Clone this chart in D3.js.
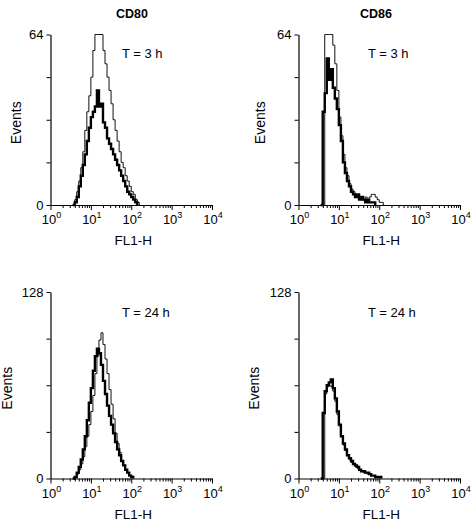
<!DOCTYPE html>
<html><head><meta charset="utf-8">
<script src="https://cdn.jsdelivr.net/npm/d3@7"></script>
<style>body{margin:0;background:#fff}svg{display:block}text{font-family:"Liberation Sans",Arial,Helvetica,sans-serif;fill:#000}</style>
</head><body><script>
// log10(FL1-H) bin starts
const binLog = [0.55,0.60,0.65,0.70,0.75,0.80,0.85,0.90,0.95,1.00,1.05,1.10,1.15,1.20,1.25,1.30,1.35,1.40,1.45,1.50,1.55,1.60,1.65,1.70,1.75,1.80,1.85,1.90,1.95,2.00,2.05,2.10,2.15,2.20,2.25];
const columnTitles = ["CD80", "CD86"];
const timeLabels = ["T = 3 h", "T = 24 h"];
const yMaxByRow = [64, 128];
const yTicksByRow = [[0,16,32,48,64],[0,32,64,96,128]];
const xDecades = [1, 10, 100, 1000, 10000];
const xDecadeExp = ["0","1","2","3","4"];
// Histograms (events per bin)
const cd80_3h_thin  = [0,2,5,9,14,20,28,35,41,48,58,64,64,64,64,58,53,48,43,38,32,28,24,20,16,14,11,9,7,5,4,2,1,0,0];
const cd80_3h_thick = [0,1,3,7,11,15,19,24,29,33,35,37,43,37,38,31,29,25,23,21,19,17,15,13,11,9,7,5,4,3,2,1,0,0,0];
const cd86_3h_thin  = [0,0,64,64,64,64,60,53,43,33,26,19,14,11,8,6,5,4,3,3,2,2,3,2,3,4,4,3,2,1,1,0,0,0,0];
const cd86_3h_thick = [0,35,42,55,47,51,44,40,36,30,24,16,12,9,7,5,4,3,4,2,3,2,1,2,1,1,1,0,0,0,0,0,0,0,0];
const cd80_24h_thin  = [0,1,3,6,10,15,22,29,37,46,57,72,84,95,100,92,82,72,61,51,41,31,24,18,12,9,6,4,2,1,0,0,0,0,0];
const cd80_24h_thick = [0,1,4,8,13,20,29,40,52,62,74,84,89,86,78,67,58,50,43,37,31,25,20,16,12,9,6,4,2,1,0,0,0,0,0];
const cd86_24h_thin  = [0,0,58,63,64,63,60,53,44,36,29,23,19,16,13,11,10,8,7,6,5,4,4,3,3,2,2,1,1,1,0,0,0,0,0];
const cd86_24h_thick = [0,45,60,64,66,68,62,55,46,37,29,24,20,16,14,12,10,9,8,6,5,5,4,4,3,2,2,1,1,1,0,0,0,0,0];

const seriesGrid = [
  [[cd80_3h_thin, cd80_3h_thick], [cd86_3h_thin, cd86_3h_thick]],
  [[cd80_24h_thin, cd80_24h_thick], [cd86_24h_thin, cd86_24h_thick]]
];

const W = 474, H = 521;
const svg = d3.select("body").append("svg").attr("width", W).attr("height", H);

const colX = [50.5, 298.5];
const plotW = 161.5;
const rowY = [[34.5, 205], [292, 478.5]];
const binStep = 0.05;

function points(vals) {
  let first = vals.findIndex(v => v > 0);
  let last = vals.length - 1;
  while (last > 0 && vals[last] === 0) last--;
  const pts = [];
  const s = Math.max(0, first - 1);
  for (let i = s; i <= last; i++) pts.push([Math.pow(10, binLog[i]), vals[i]]);
  pts.push([Math.pow(10, binLog[last] + binStep), 0]);
  if (s === first) pts.unshift([Math.pow(10, binLog[first]), 0]);
  return pts;
}

for (let r = 0; r < 2; r++) {
  for (let c = 0; c < 2; c++) {
    const x0 = colX[c], top = rowY[r][0], bot = rowY[r][1];
    const x = d3.scaleLog().domain([1, 10000]).range([x0, x0 + plotW]);
    const y = d3.scaleLinear().domain([0, yMaxByRow[r]]).range([bot, top]).clamp(true);
    const g = svg.append("g");

    const line = d3.line().x(d => x(d[0])).y(d => y(d[1])).curve(d3.curveStepAfter);
    const [thin, thick] = seriesGrid[r][c];
    g.append("path").datum(points(thin)).attr("d", line)
      .attr("fill", "none").attr("stroke", "#111").attr("stroke-width", 1);
    g.append("path").datum(points(thick)).attr("d", line)
      .attr("fill", "none").attr("stroke", "#000").attr("stroke-width", 2.4);

    // y axis
    const ya = d3.axisLeft(y).tickValues(yTicksByRow[r]).tickSize(4).tickSizeOuter(0).tickPadding(3)
      .tickFormat(d => (d === 0 || d === yMaxByRow[r]) ? d : "");
    const yg = g.append("g").attr("transform", `translate(${x0},0)`).call(ya);
    yg.selectAll("text").attr("font-size", 13).attr("font-family", '"Liberation Sans",Arial,sans-serif');
    yg.select(".domain").attr("stroke-width", 1.2);

    // x axis
    const xt = [];
    for (const dd of [1, 10, 100, 1000]) for (let k = 1; k <= 9; k++) xt.push(dd * k);
    xt.push(10000);
    const xa = d3.axisBottom(x).tickValues(xt).tickSize(3).tickSizeOuter(0).tickFormat("");
    const xg = g.append("g").attr("transform", `translate(0,${bot})`).call(xa);
    xg.selectAll(".tick line").attr("y2", d => xDecades.includes(d) ? 5 : 3);
    xg.select(".domain").attr("stroke-width", 1.2);
    xDecades.forEach((d, i) => {
      const t = g.append("text").attr("x", x(d) + 1).attr("y", bot + 19)
        .attr("text-anchor", "middle").attr("font-size", 13);
      t.append("tspan").text("10");
      t.append("tspan").attr("dy", -6).attr("font-size", 9).text(xDecadeExp[i]);
    });

    g.append("text").attr("x", x0 + plotW / 2 + 2).attr("y", bot + 40)
      .attr("text-anchor", "middle").attr("font-size", 13.5).text("FL1-H");
    const evX = c === 0 ? (r === 0 ? 21 : 12) : (r === 0 ? 265 : 259);
    const evY = (top + bot) / 2 + 3;
    g.append("text").attr("transform", `translate(${evX},${evY}) rotate(-90)`)
      .attr("text-anchor", "middle").attr("font-size", 14).text("Events");
    g.append("text").attr("x", c === 0 ? 122 : 368).attr("y", r === 0 ? 58 : 317)
      .attr("font-size", 13).text(timeLabels[r]);
    if (r === 0) {
      svg.append("text").attr("x", c === 0 ? 132 : 376).attr("y", 18)
        .attr("text-anchor", "middle").attr("font-size", 12.5).attr("font-weight", "bold").text(columnTitles[c]);
    }
  }
}
</script></body></html>
